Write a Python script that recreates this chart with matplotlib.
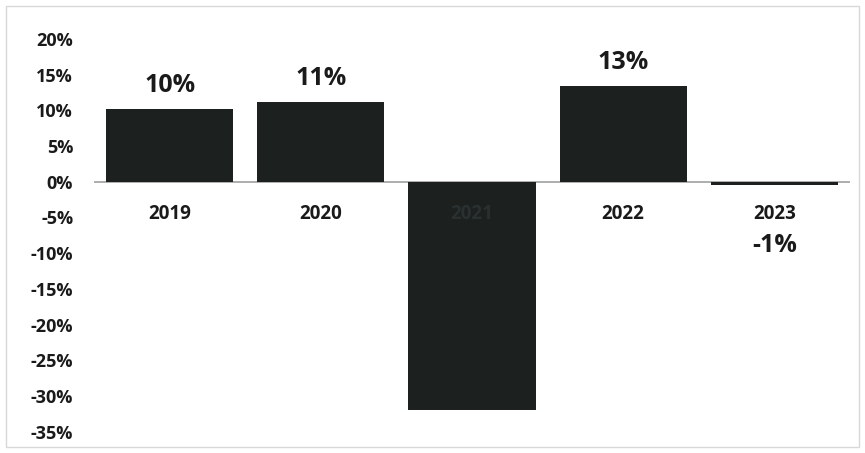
import numpy as np
import matplotlib

matplotlib.use("Agg")
import matplotlib.pyplot as plt
from matplotlib.patches import Rectangle

YEARS = ["2019", "2020", "2021", "2022", "2023"]
GROWTH = [10.2, 11.2, -31.9, 13.4, -0.5]
VALUE_LABELS = ["10%", "11%", "", "13%", "-1%"]
YTICKS = np.arange(-35, 21, 5)

BAR = "#1c2120"
TEXT = "#1a1a1a"

plt.rcParams["font.family"] = ["Open Sans", "DejaVu Sans"]

fig = plt.figure(figsize=(8.65, 4.53), dpi=100)
ax = fig.add_axes([94 / 865, 1 - 436 / 453, (850 - 94) / 865, (436 - 36) / 453])

x = np.arange(len(YEARS))
ax.bar(x, GROWTH, width=0.84, color=BAR, zorder=2)

ax.set_xlim(-0.5, len(YEARS) - 0.5)
ax.set_ylim(-35.6, 20.4)
ax.set_yticks(YTICKS)
ax.set_yticklabels([f"{v}%" for v in YTICKS], fontsize=13, fontweight="bold", color=TEXT)
ax.tick_params(axis="y", length=0, pad=15)
ax.set_xticks([])
for s in ax.spines.values():
    s.set_visible(False)
ax.axhline(0, color="#a0a0a0", lw=1.2, zorder=1)

# category labels sit just under the zero line (2021 disappears into its bar)
for i, yr in enumerate(YEARS):
    col = "#2a302f" if GROWTH[i] < -5 else TEXT
    ax.annotate(yr, (i, 0), xytext=(0, -23), textcoords="offset points",
                ha="center", va="center", fontsize=13.5, fontweight="bold", color=col, zorder=3)

for i, (v, lab) in enumerate(zip(GROWTH, VALUE_LABELS)):
    if not lab:
        continue
    if v >= 0:
        ax.annotate(lab, (i, v), xytext=(0, 17), textcoords="offset points",
                    ha="center", va="center", fontsize=18, fontweight="bold", color=TEXT)
    else:
        ax.annotate(lab, (i, 0), xytext=(0, -46), textcoords="offset points",
                    ha="center", va="center", fontsize=18, fontweight="bold", color=TEXT)

fig.patches.append(Rectangle((6 / 865, 6 / 453), 1 - 12 / 865, 1 - 12 / 453,
                             transform=fig.transFigure, fill=False,
                             edgecolor="#d8d8d8", lw=1))

fig.savefig("out.png", dpi=100)
